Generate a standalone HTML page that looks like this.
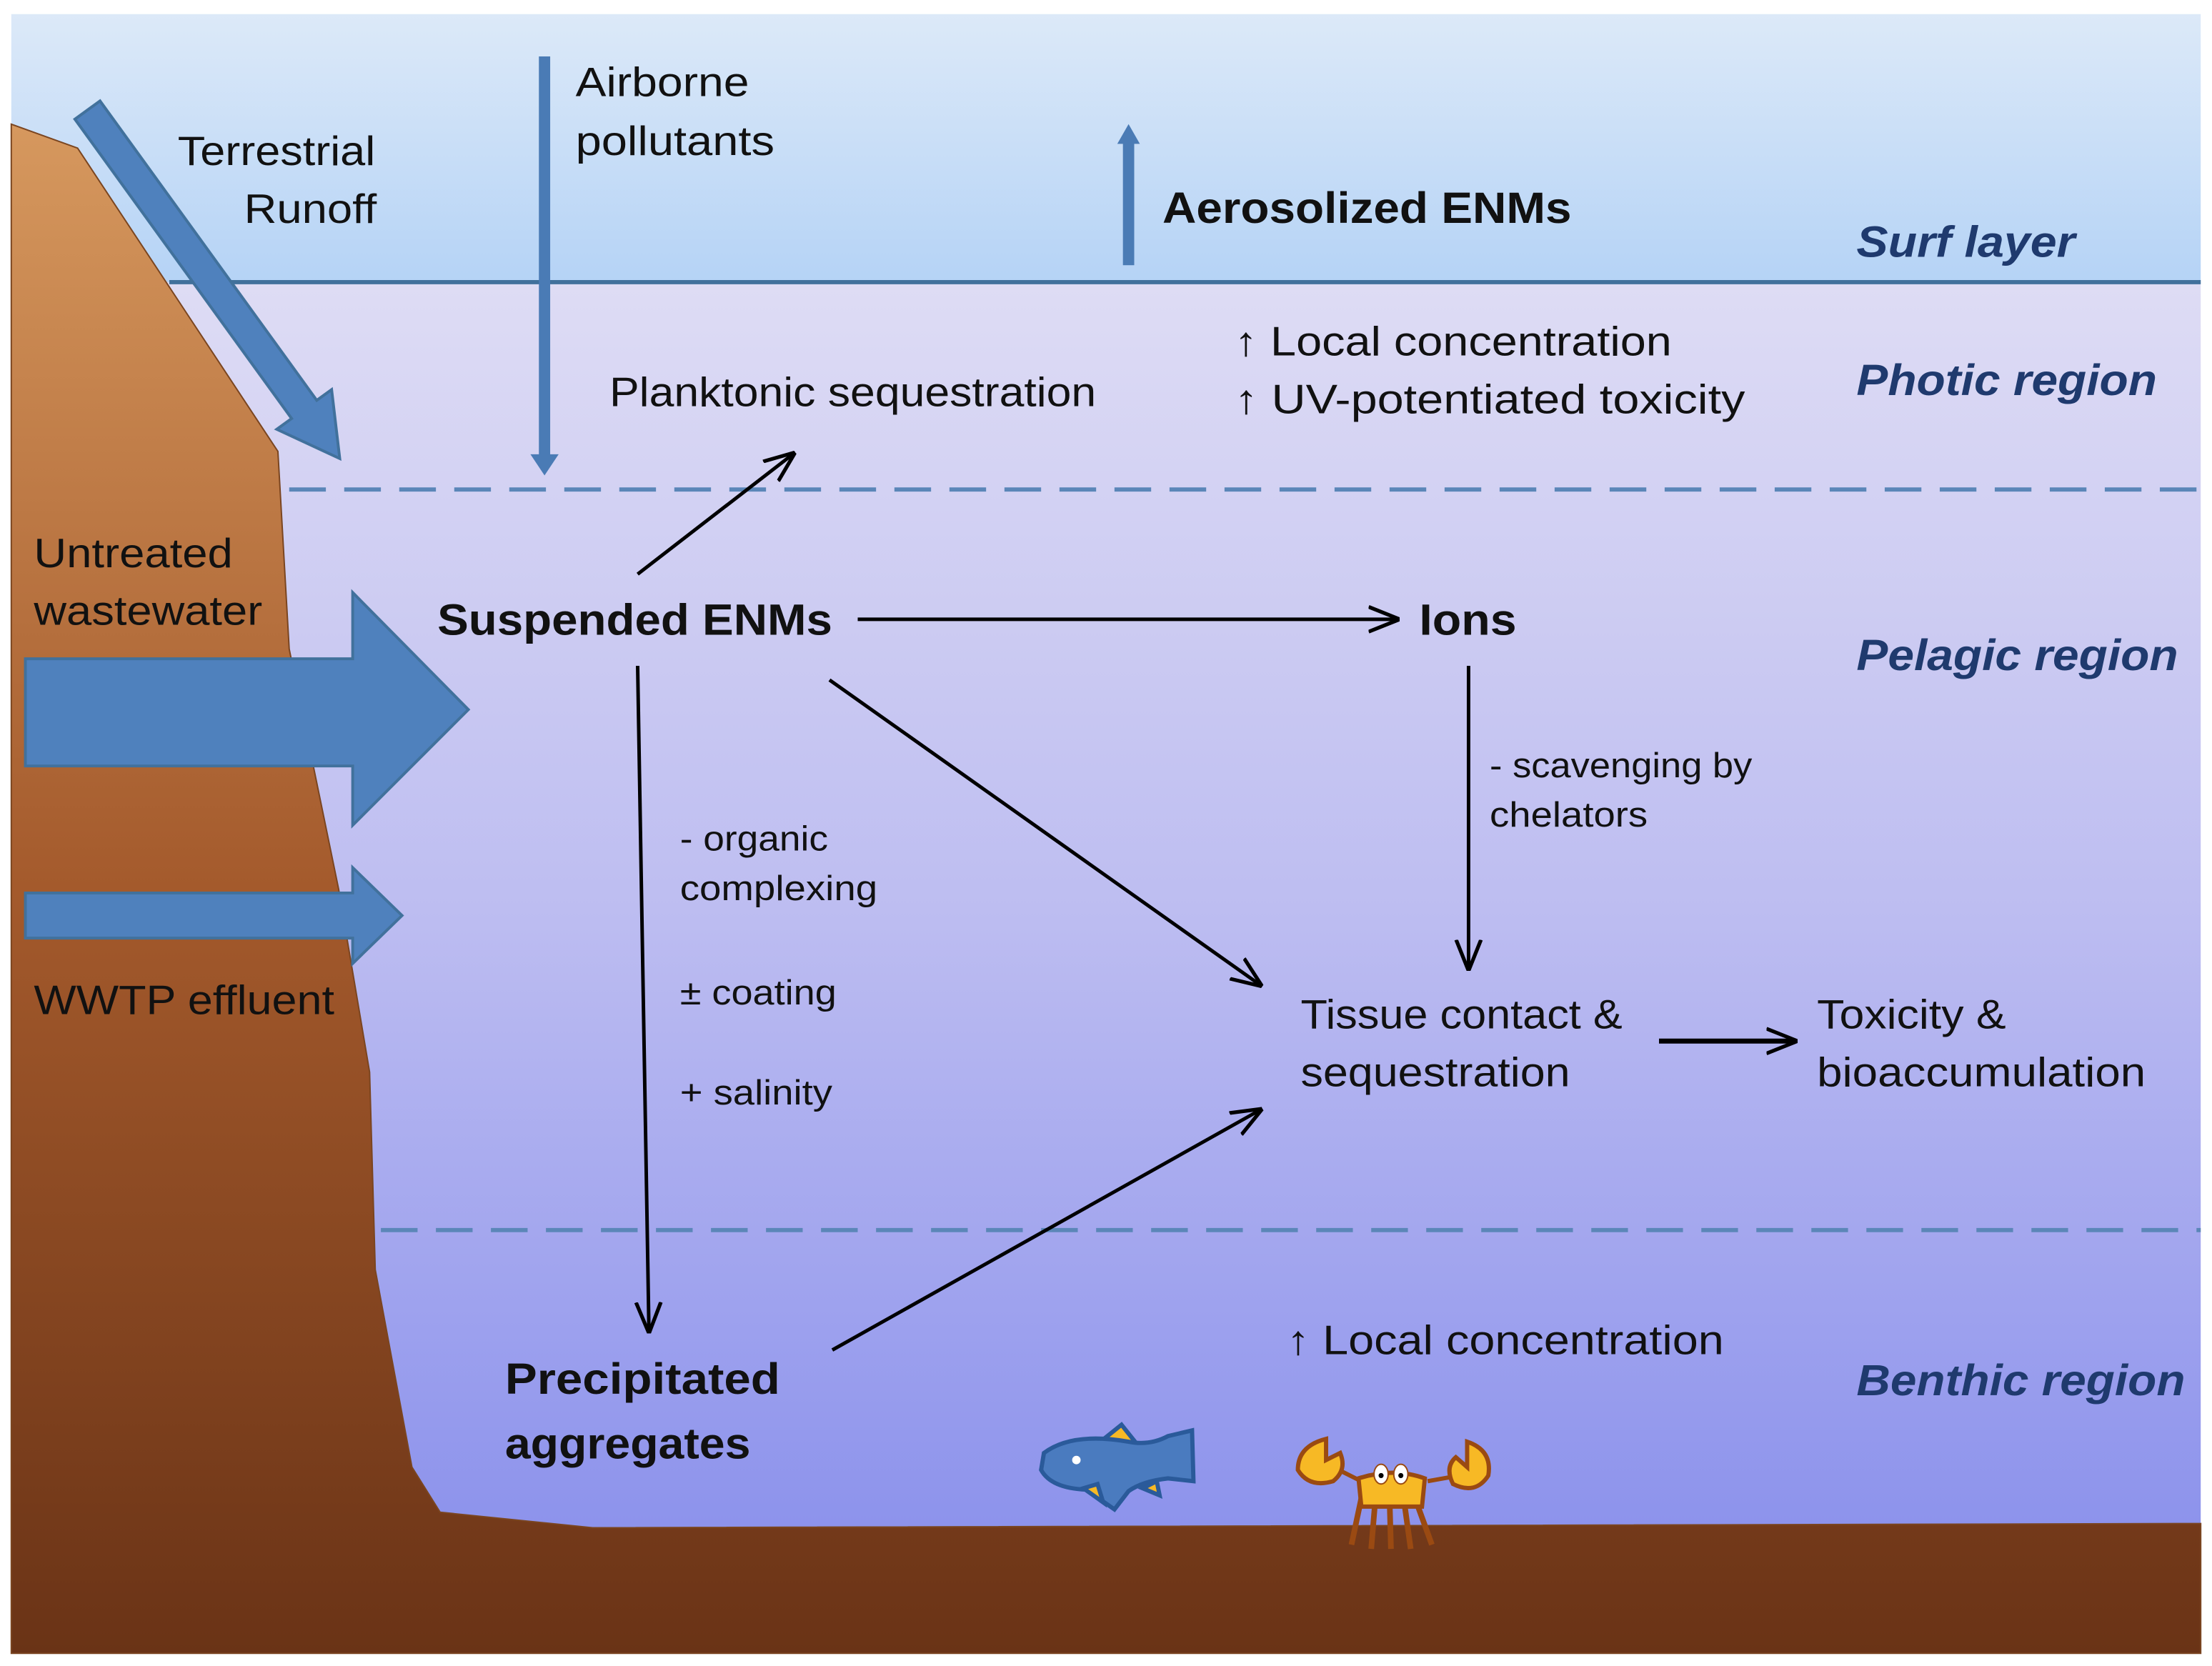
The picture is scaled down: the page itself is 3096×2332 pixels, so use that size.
<!DOCTYPE html>
<html><head><meta charset="utf-8"><style>
html,body{margin:0;padding:0;background:#fff;}
svg{display:block;}
text{font-family:"Liberation Sans",sans-serif;fill:#111;}
</style></head><body>
<svg width="3096" height="2332" viewBox="0 0 1568 1181" preserveAspectRatio="none" xmlns="http://www.w3.org/2000/svg">
<defs>
<linearGradient id="sky" x1="0" y1="0" x2="0" y2="1"><stop offset="0" stop-color="#dce9f8"/><stop offset="1" stop-color="#b5d3f6"/></linearGradient>
<linearGradient id="water" x1="0" y1="0" x2="0" y2="1"><stop offset="0" stop-color="#dedcf4"/><stop offset="0.5" stop-color="#bdbdf1"/><stop offset="1" stop-color="#8c92ec"/></linearGradient>
<linearGradient id="land" x1="0" y1="0" x2="0" y2="1"><stop offset="0" stop-color="#d6985e"/><stop offset="0.5" stop-color="#a45a2c"/><stop offset="1" stop-color="#6a3316"/></linearGradient>
<marker id="ah2" viewBox="0 0 10 10" refX="9" refY="5" markerWidth="22" markerHeight="22" markerUnits="userSpaceOnUse" orient="auto"><path d="M0,1 L10,5 L0,9" fill="none" stroke="#000" stroke-width="1.2"/></marker>
</defs>
<rect x="8" y="10" width="1552" height="191" fill="url(#sky)"/>
<rect x="8" y="200" width="1552" height="890" fill="url(#water)"/>
<line x1="120" y1="200" x2="1560" y2="200" stroke="#41719c" stroke-width="3"/>
<line x1="205" y1="347" x2="1560" y2="347" stroke="#5b86b8" stroke-width="3" stroke-dasharray="26,13"/>
<line x1="270" y1="872" x2="1560" y2="872" stroke="#5b86b8" stroke-width="3" stroke-dasharray="26,13"/>
<path d="M8,88 L55,105 L197,320 L205,460 L240,630 L262,760 L266,900 L292,1040 L312,1072 L420,1083 L1560,1080 L1560,1172 L8,1172 Z" fill="url(#land)" stroke="#7a4520" stroke-width="1"/>
<g transform="translate(62,78) rotate(54.1)">
<path d="M0,-11 L262,-11 L262,-24 L305,0 L262,24 L262,11 L0,11 Z" fill="#4f81bd" stroke="#41719c" stroke-width="2"/>
</g>
<rect x="382" y="40" width="8" height="285" fill="#4a7bb5"/>
<path d="M376,322 L396,322 L386,337 Z" fill="#4a7bb5"/>
<rect x="796" y="100" width="8" height="88" fill="#4a7bb5"/>
<path d="M792,102 L808,102 L800,88 Z" fill="#4a7bb5"/>
<path d="M18,467 L250,467 L250,420 L332,503 L250,585 L250,543 L18,543 Z" fill="#4f81bd" stroke="#41719c" stroke-width="2"/>
<path d="M18,633 L250,633 L250,615 L285,649 L250,683 L250,665 L18,665 Z" fill="#4f81bd" stroke="#41719c" stroke-width="2"/>
<g stroke="#000" stroke-width="2.5" fill="none">
<line x1="452" y1="407" x2="562" y2="322" marker-end="url(#ah2)"/>
<line x1="608" y1="439" x2="990" y2="439" marker-end="url(#ah2)"/>
<line x1="452" y1="472" x2="460" y2="943" marker-end="url(#ah2)"/>
<line x1="588" y1="482" x2="893" y2="698" marker-end="url(#ah2)"/>
<line x1="1041" y1="472" x2="1041" y2="686" marker-end="url(#ah2)"/>
<line x1="590" y1="957" x2="893" y2="787" marker-end="url(#ah2)"/>
<line x1="1176" y1="738" x2="1272" y2="738" stroke-width="3.5" marker-end="url(#ah2)"/>
</g>
<g font-size="29" lengthAdjust="spacingAndGlyphs">
<text x="126" y="117" textLength="140" lengthAdjust="spacingAndGlyphs">Terrestrial</text>
<text x="173" y="158" textLength="94" lengthAdjust="spacingAndGlyphs">Runoff</text>
<text x="408" y="68" textLength="123" lengthAdjust="spacingAndGlyphs">Airborne</text>
<text x="408" y="110" textLength="141" lengthAdjust="spacingAndGlyphs">pollutants</text>
<text x="432" y="288" textLength="345" lengthAdjust="spacingAndGlyphs">Planktonic sequestration</text>
<text x="875" y="252" textLength="310" lengthAdjust="spacingAndGlyphs">↑ Local concentration</text>
<text x="875" y="293" textLength="362" lengthAdjust="spacingAndGlyphs">↑ UV-potentiated toxicity</text>
<text x="24" y="402" textLength="141" lengthAdjust="spacingAndGlyphs">Untreated</text>
<text x="24" y="443" textLength="162" lengthAdjust="spacingAndGlyphs">wastewater</text>
<text x="24" y="719" textLength="213" lengthAdjust="spacingAndGlyphs">WWTP effluent</text>
<text x="922" y="729" textLength="228" lengthAdjust="spacingAndGlyphs">Tissue contact &amp;</text>
<text x="922" y="770" textLength="191" lengthAdjust="spacingAndGlyphs">sequestration</text>
<text x="1288" y="729" textLength="134" lengthAdjust="spacingAndGlyphs">Toxicity &amp;</text>
<text x="1288" y="770" textLength="233" lengthAdjust="spacingAndGlyphs">bioaccumulation</text>
<text x="912" y="960" textLength="310" lengthAdjust="spacingAndGlyphs">↑ Local concentration</text>
</g>
<g font-size="25">
<text x="482" y="603" textLength="105" lengthAdjust="spacingAndGlyphs">- organic</text>
<text x="482" y="638" textLength="140" lengthAdjust="spacingAndGlyphs">complexing</text>
<text x="482" y="712" textLength="111" lengthAdjust="spacingAndGlyphs">± coating</text>
<text x="482" y="783" textLength="108" lengthAdjust="spacingAndGlyphs">+ salinity</text>
<text x="1056" y="551" textLength="186" lengthAdjust="spacingAndGlyphs">- scavenging by</text>
<text x="1056" y="586" textLength="112" lengthAdjust="spacingAndGlyphs">chelators</text>
</g>
<g font-size="31" font-weight="bold">
<text x="824" y="158" textLength="290" lengthAdjust="spacingAndGlyphs">Aerosolized ENMs</text>
<text x="310" y="450" textLength="280" lengthAdjust="spacingAndGlyphs">Suspended ENMs</text>
<text x="1006" y="450" textLength="69" lengthAdjust="spacingAndGlyphs">Ions</text>
<text x="358" y="988" textLength="195" lengthAdjust="spacingAndGlyphs">Precipitated</text>
<text x="358" y="1034" textLength="174" lengthAdjust="spacingAndGlyphs">aggregates</text>
</g>
<g font-size="31" font-weight="bold" font-style="italic">
<text x="1316" y="182" textLength="155" lengthAdjust="spacingAndGlyphs" style="fill:#1f3a6e">Surf layer</text>
<text x="1316" y="280" textLength="213" lengthAdjust="spacingAndGlyphs" style="fill:#1f3a6e">Photic region</text>
<text x="1316" y="475" textLength="228" lengthAdjust="spacingAndGlyphs" style="fill:#1f3a6e">Pelagic region</text>
<text x="1316" y="989" textLength="233" lengthAdjust="spacingAndGlyphs" style="fill:#1f3a6e">Benthic region</text>
</g>
<g stroke="#2a5a9a" stroke-width="3">
<path d="M780,1022 L795,1010 L807,1025 Z" fill="#f7b925"/>
<path d="M740,1030 Q760,1015 800,1022 Q815,1025 828,1018 L845,1014 L846,1050 L828,1048 Q810,1050 800,1057 L790,1070 L770,1056 Q745,1055 738,1042 Z" fill="#4a7bbf"/>
<path d="M768,1055 L778,1052 L782,1065 Z" fill="#f7b925"/>
<path d="M810,1055 L820,1050 L822,1060 Z" fill="#f7b925"/>
<circle cx="763" cy="1035" r="3" fill="#fff" stroke="none"/>
</g>
<g stroke="#9a4a12" stroke-width="3">
<path d="M965,1062 L958,1095 M975,1062 L972,1098 M985,1062 L986,1098 M995,1062 L1000,1098 M1003,1062 L1015,1095" fill="none" stroke-width="4"/>
<path d="M945,1040 L965,1050 M1040,1045 L1012,1050" fill="none"/>
<path d="M940,1020 Q920,1025 920,1042 Q928,1055 945,1050 Q955,1042 950,1030 L940,1035 Z" fill="#f7b925"/>
<path d="M1040,1022 Q1058,1028 1055,1046 Q1046,1060 1030,1052 Q1024,1040 1032,1033 L1040,1040 Z" fill="#f7b925"/>
<path d="M963,1048 Q988,1040 1010,1048 L1008,1068 L965,1068 Z" fill="#f7b925"/>
<ellipse cx="979" cy="1045" rx="5" ry="7" fill="#fff" stroke-width="1"/>
<ellipse cx="993" cy="1045" rx="5" ry="7" fill="#fff" stroke-width="1"/>
<circle cx="979" cy="1046" r="1.8" fill="#000" stroke="none"/>
<circle cx="993" cy="1046" r="1.8" fill="#000" stroke="none"/>
</g>
</svg>
</body></html>
